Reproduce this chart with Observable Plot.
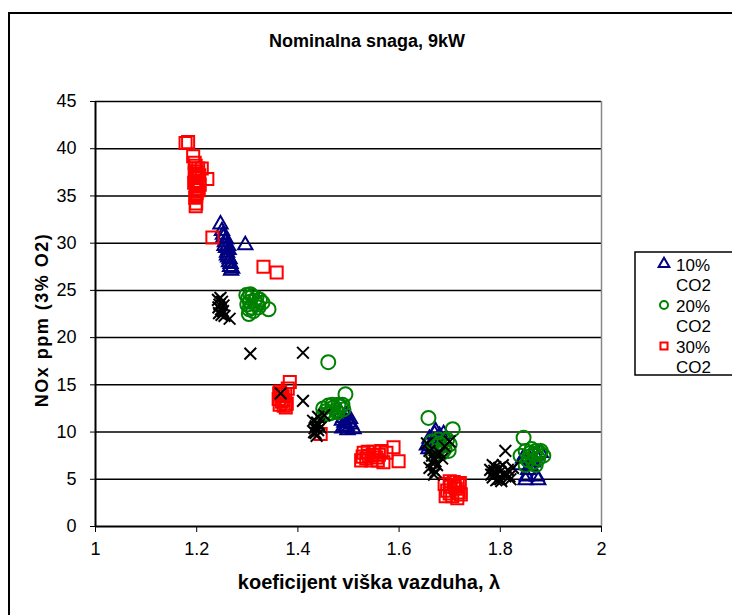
<!DOCTYPE html>
<html><head><meta charset="utf-8">
<script src="https://cdn.jsdelivr.net/npm/d3@7"></script>
<script src="https://cdn.jsdelivr.net/npm/@observablehq/plot@0.6"></script>
<style>
body{margin:0;background:#fff;overflow:hidden;font-family:"Liberation Sans",Arial,sans-serif;}
#wrap{position:relative;width:732px;height:615px;overflow:hidden;background:#fff;}
#frame{position:absolute;left:8px;top:12px;width:780px;height:660px;border:2px solid #000;box-sizing:border-box;}
#chart{position:absolute;left:0;top:0;}
#title{position:absolute;left:0;width:734px;top:31px;text-align:center;font-weight:bold;font-size:18px;}
#ylab{position:absolute;left:42px;top:320px;transform:translate(-50%,-50%) rotate(-90deg);white-space:nowrap;font-weight:bold;font-size:18px;letter-spacing:1.5px;}
#xlab{position:absolute;left:0;width:738px;top:571px;text-align:center;font-weight:bold;font-size:20px;}
#legend{position:absolute;left:634px;top:251px;}
</style></head>
<body>
<div id="wrap">
  <div id="frame"></div>
  <div id="chart"></div>
  <div id="title">Nominalna snaga, 9kW</div>
  <div id="ylab">NOx ppm (3% O2)</div>
  <div id="xlab">koeficijent viška vazduha, λ</div>
  <div id="legend"></div>
</div>
<script>
// ---- data ----
const xTicks = [1, 1.2, 1.4, 1.6, 1.8, 2];
const yTicks = [0, 5, 10, 15, 20, 25, 30, 35, 40, 45];
const legendLabels = [["10%", "CO2"], ["20%", "CO2"], ["30%", "CO2"]];

// 10% CO2 (triangles)
const co2_10 = [
  [1.247,32.0],[1.25,31.3],[1.252,30.9],[1.253,30.6],[1.256,30.1],[1.258,29.5],[1.26,29.0],[1.262,28.5],
  [1.264,28.0],[1.266,27.5],[1.268,27.1],[1.296,29.8],[1.255,29.7],[1.26,28.7],[1.263,29.3],[1.265,28.3],
  [1.267,27.8],[1.27,27.3],[1.258,30.4],[1.262,29.7],
  [1.485,12.0],[1.49,11.5],[1.495,11.8],[1.5,11.0],[1.493,10.5],[1.498,10.2],[1.505,10.8],[1.51,10.3],[1.487,11.2],
  [1.492,11.0],[1.497,10.6],[1.503,11.4],[1.488,10.4],
  [1.655,8.6],[1.66,9.3],[1.665,8.2],[1.67,9.8],[1.675,8.9],[1.68,9.6],[1.685,8.4],[1.69,9.1],[1.662,8.5],[1.672,10.1],
  [1.658,8.2],[1.668,9.0],[1.678,8.6],[1.688,9.8],
  [1.85,4.9],[1.875,4.9],[1.84,6.5],[1.86,7.0],[1.87,7.5],[1.855,6.0],[1.865,6.8],[1.88,7.8],[1.845,7.2],
  [1.852,5.3],[1.872,5.3],[1.858,6.4]
];
// 20% CO2 (circles)
const co2_20 = [
  [1.298,24.5],[1.302,24.2],[1.305,23.8],[1.31,24.4],[1.308,23.2],[1.303,22.5],[1.315,23.9],
  [1.32,23.5],[1.325,24.0],[1.312,22.8],[1.342,23.0],[1.33,23.7],[1.3,23.5],[1.306,24.6],
  [1.318,24.2],[1.304,23.0],[1.322,23.2],
  [1.46,17.4],
  [1.494,14.0],[1.45,12.5],[1.455,12.2],[1.46,12.8],[1.465,12.0],[1.47,12.6],[1.475,12.3],[1.48,12.9],[1.485,12.7],[1.49,12.4],[1.45,11.8],
  [1.458,11.9],[1.468,12.9],[1.478,12.1],[1.488,12.9],
  [1.658,11.5],[1.706,10.3],[1.665,9.0],[1.672,8.5],[1.68,8.8],[1.69,8.2],[1.70,8.7],[1.685,7.8],[1.675,8.0],[1.695,9.2],[1.668,7.5],
  [1.678,9.2],[1.688,8.6],[1.698,8.0],
  [1.846,9.4],[1.84,7.5],[1.85,8.0],[1.855,7.0],[1.86,7.8],[1.865,6.8],[1.87,8.0],[1.875,7.2],[1.88,8.0],[1.885,7.5],[1.85,6.5],[1.87,6.5],
  [1.858,7.4],[1.868,7.6],[1.878,7.8],[1.862,8.2]
];
// 30% CO2 (squares)
const co2_30 = [
  [1.178,40.6],[1.183,40.7],[1.193,39.2],[1.198,38.2],[1.2,37.6],[1.197,37.0],[1.202,36.5],[1.221,36.8],
  [1.198,36.0],[1.2,35.3],[1.197,34.8],[1.199,34.2],[1.205,37.2],[1.21,37.9],[1.195,36.4],[1.2,35.8],[1.198,33.9],
  [1.203,37.9],[1.196,37.4],[1.201,36.9],[1.204,35.6],[1.199,35.0],[1.206,36.2],[1.196,38.5],
  [1.231,30.6],[1.332,27.5],[1.358,26.9],
  [1.384,15.3],[1.365,14.3],[1.37,13.8],[1.368,13.2],[1.372,12.8],[1.362,13.5],[1.375,14.0],[1.378,13.0],[1.38,14.6],
  [1.364,12.9],[1.367,14.0],[1.371,13.4],[1.376,12.6],[1.363,14.1],
  [1.445,9.8],
  [1.525,7.0],[1.53,7.8],[1.535,7.2],[1.54,7.5],[1.545,7.0],[1.55,7.9],[1.555,7.3],[1.56,7.6],[1.569,6.8],[1.575,7.8],[1.589,8.4],[1.599,6.9],
  [1.528,7.4],[1.538,7.9],[1.548,7.6],[1.558,7.0],[1.565,8.0],
  [1.69,4.5],[1.695,3.8],[1.70,4.8],[1.705,3.2],[1.71,4.2],[1.715,3.0],[1.72,4.6],[1.70,3.5],[1.712,4.0],[1.718,3.6],
  [1.692,3.2],[1.702,4.2],[1.708,4.7],[1.716,4.4],[1.722,3.4]
];
// unlabelled series (black crosses)
const other = [
  [1.242,24.0],[1.245,23.5],[1.248,23.0],[1.244,22.6],[1.25,23.8],[1.252,22.8],[1.255,22.3],[1.265,22.0],[1.247,24.2],
  [1.243,23.2],[1.249,22.4],[1.253,23.4],
  [1.306,18.3],[1.41,18.4],[1.366,14.1],[1.41,13.3],
  [1.43,11.2],[1.435,10.6],[1.44,10.2],[1.432,10.0],[1.438,11.0],[1.445,10.5],[1.44,11.6],[1.435,9.9],[1.452,11.8],
  [1.433,10.4],[1.442,10.8],[1.437,9.6],
  [1.655,8.8],[1.66,8.0],[1.665,7.5],[1.67,7.0],[1.675,6.5],[1.668,6.0],[1.672,5.8],[1.68,7.8],[1.69,8.5],[1.70,9.0],[1.685,7.2],[1.66,6.2],
  [1.664,6.8],[1.674,7.6],[1.669,5.5],
  [1.78,6.0],[1.785,5.2],[1.79,6.3],[1.795,5.0],[1.80,5.8],[1.805,6.5],[1.81,5.3],[1.815,6.0],[1.82,5.0],[1.79,5.6],[1.80,5.0],[1.81,8.0],[1.825,6.2],[1.785,6.5],
  [1.782,5.5],[1.792,4.9],[1.798,6.2],[1.808,5.6],[1.818,5.3],[1.802,4.8],[1.788,5.9]
];

const colors = {c10:"#000080", c20:"#008000", c30:"#ff0000", other:"#000"};

const chart = Plot.plot({
  width: 732, height: 615,
  marginLeft: 95, marginRight: 131, marginTop: 101, marginBottom: 89,
  style: {fontFamily: "Liberation Sans, Arial, sans-serif", fontSize: "18px", color: "#000", background: "transparent", overflow: "visible"},
  x: {domain: [1, 2], ticks: xTicks, tickFormat: d => String(d), tickSize: 6, tickPadding: 10, label: null},
  y: {domain: [0, 45], ticks: yTicks, tickSize: 5, tickPadding: 14, label: null},
  marks: [
    Plot.ruleY(yTicks.filter(d => d > 0), {stroke: "#000", strokeWidth: 1.5}),
    Plot.ruleX([2], {stroke: "#888", strokeWidth: 1.5}),
    Plot.ruleX([1], {stroke: "#000", strokeWidth: 2}),
    Plot.ruleY([0], {stroke: "#000", strokeWidth: 2}),
    Plot.dot(co2_10, {x: d => d[0], y: d => d[1], symbol: "triangle", r: 5.3, stroke: colors.c10, strokeWidth: 2, fill: "none"}),
    Plot.dot(co2_30, {x: d => d[0], y: d => d[1], symbol: "square", r: 6.8, stroke: colors.c30, strokeWidth: 2, fill: "none"}),
    Plot.dot(co2_20, {x: d => d[0], y: d => d[1], symbol: "circle", r: 7, stroke: colors.c20, strokeWidth: 2, fill: "none"}),
    Plot.dot(other, {x: d => d[0], y: d => d[1], symbol: "times", r: 5.4, stroke: colors.other, strokeWidth: 2, fill: "none"})
  ]
});
document.getElementById("chart").appendChild(chart);

// legend
const lg = d3.select("#legend").append("svg").attr("width", 110).attr("height", 126)
  .style("overflow", "hidden");
lg.append("rect").attr("x", 1).attr("y", 1).attr("width", 130).attr("height", 123)
  .attr("fill", "#fff").attr("stroke", "#000").attr("stroke-width", 1.5);
const sym = [d3.symbolTriangle, d3.symbolCircle, d3.symbolSquare];
const cols = [colors.c10, colors.c20, colors.c30];
legendLabels.forEach((lab, i) => {
  const y0 = 13 + i * 41;
  lg.append("path").attr("d", d3.symbol(sym[i], 50)()).attr("transform", `translate(30,${y0})`)
    .attr("fill", "none").attr("stroke", cols[i]).attr("stroke-width", 2);
  lg.append("text").attr("x", 42).attr("y", y0 + 7).text(lab[0])
    .attr("font-family", "Liberation Sans, Arial, sans-serif").attr("font-size", 17);
  lg.append("text").attr("x", 42).attr("y", y0 + 27).text(lab[1])
    .attr("font-family", "Liberation Sans, Arial, sans-serif").attr("font-size", 17);
});
</script>
</body></html>
